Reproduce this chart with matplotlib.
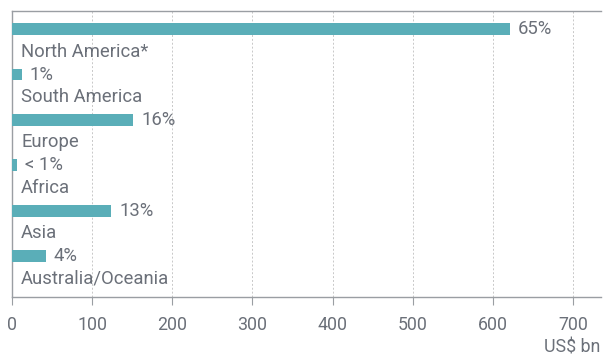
import matplotlib
matplotlib.use('Agg')
import matplotlib.pyplot as plt

# data
regions = ['North America*', 'South America', 'Europe', 'Africa', 'Asia', 'Australia/Oceania']
values = [621, 12, 151, 6, 124, 42]  # US$ bn
shares = ['65%', '1%', '16%', '< 1%', '13%', '4%']
xticks = [0, 100, 200, 300, 400, 500, 600, 700]

bar_color = '#5aaeb8'
text_color = '#6b7079'
line_color = '#9a9ea3'

plt.rcParams['font.family'] = ['Roboto', 'DejaVu Sans']

fig = plt.figure(figsize=(6.09, 3.58), dpi=100)
ax = fig.add_axes([12 / 609, 1 - 297 / 358, (601 - 12) / 609, (297 - 11) / 358])

pos = list(range(len(regions)))
ax.barh(pos, values, height=0.26, color=bar_color, zorder=3)

ax.set_xlim(0, 735)
ax.set_ylim(5.9, -0.4)

# share labels next to bars, region names below bars
for p, v, s, r in zip(pos, values, shares, regions):
    ax.annotate(s, xy=(v, p), xytext=(5.8, 0), textcoords='offset points',
                ha='left', va='center', fontsize=13.3, color=text_color)
    ax.annotate(r, xy=(0, p), xytext=(6.5, -16.2), textcoords='offset points',
                ha='left', va='center', fontsize=13.3, color=text_color)

ax.set_xticks(xticks)
ax.set_xticklabels([str(t) for t in xticks])
ax.set_yticks([])
ax.tick_params(axis='x', length=6, width=0.8, color=line_color, labelcolor=text_color,
               labelsize=12.8, pad=8)
ax.grid(axis='x', linestyle=(0, (2, 2)), color='#c8c8c8', linewidth=0.7, zorder=0)

for side in ['left', 'top', 'bottom']:
    ax.spines[side].set_color(line_color)
    ax.spines[side].set_linewidth(1.0)
ax.spines['right'].set_visible(False)

fig.text(600 / 609, 1 - 348 / 358, 'US$ bn', ha='right', va='center',
         fontsize=12.8, color=text_color)

fig.savefig('out.png', dpi=100)
